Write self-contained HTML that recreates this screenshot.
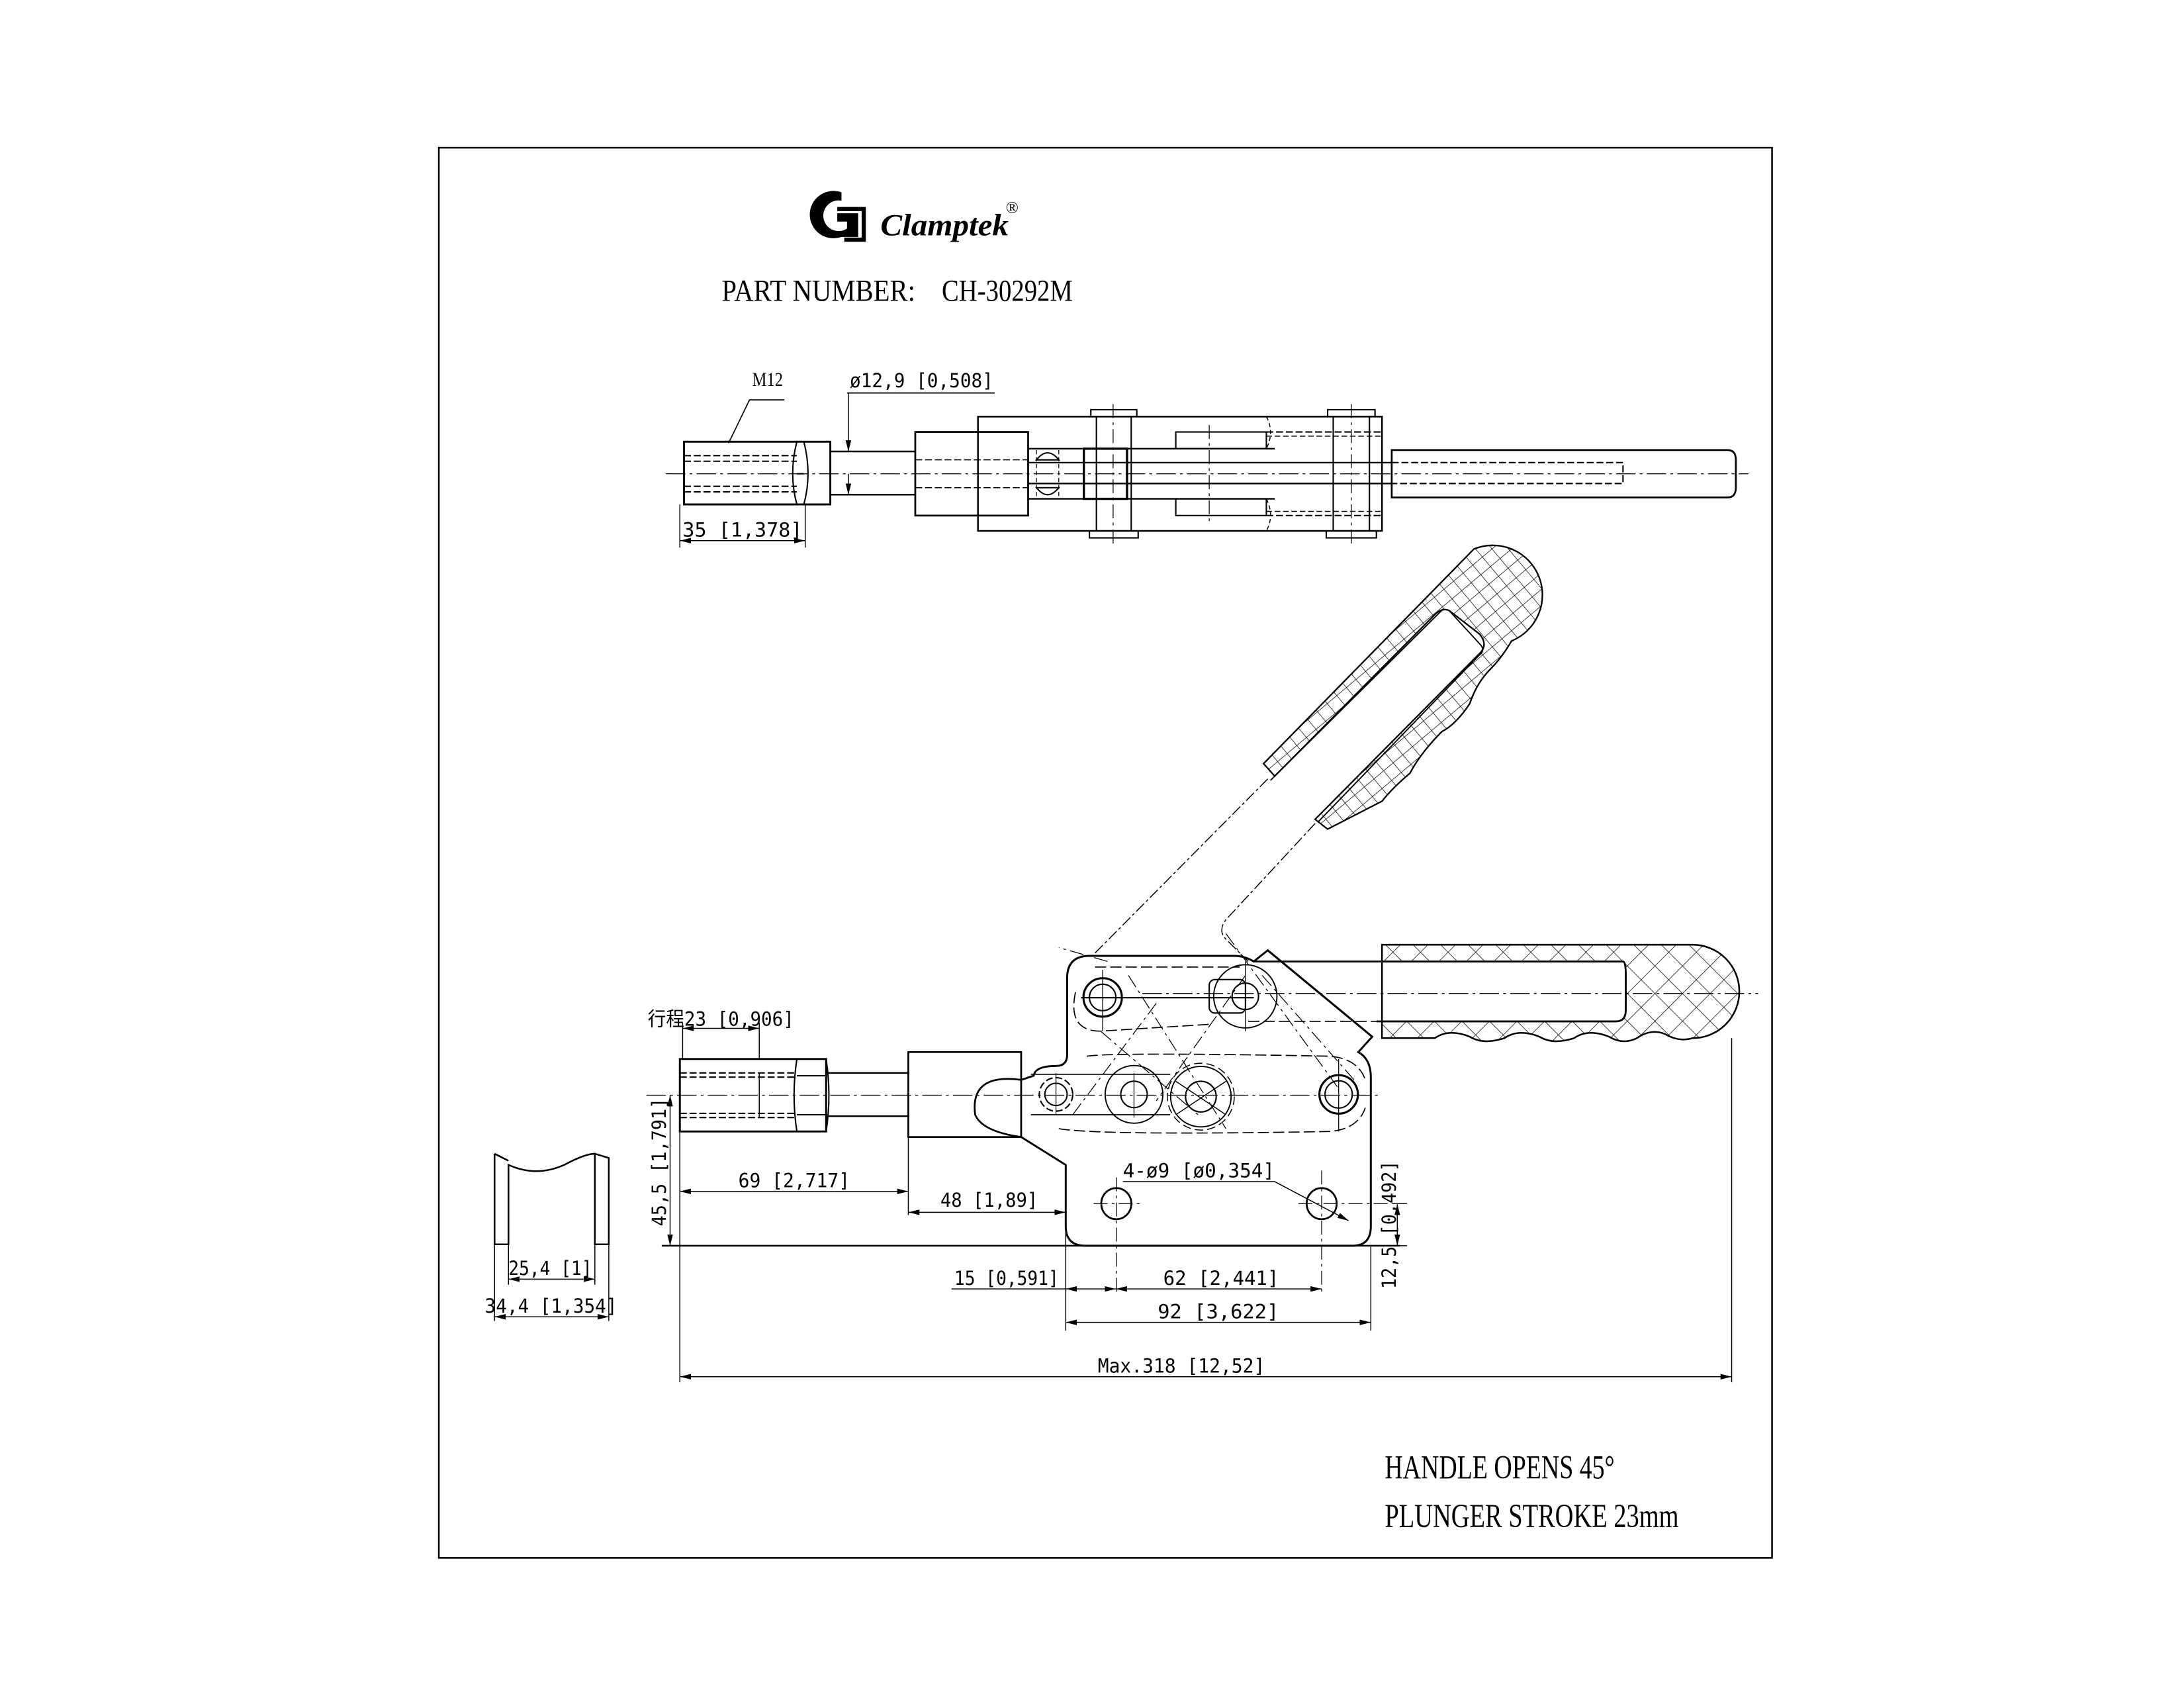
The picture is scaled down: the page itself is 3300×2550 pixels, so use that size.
<!DOCTYPE html>
<html><head><meta charset="utf-8"><style>
html,body{margin:0;padding:0;background:#fff;width:3300px;height:2550px;overflow:hidden}
svg{display:block}
.dim{font-family:"DejaVu Sans Mono","Liberation Mono",monospace;font-size:14px;fill:#000}
.serif{font-family:"Liberation Serif",serif;fill:#000}
</style></head><body>
<svg width="3300" height="2550" viewBox="0 0 1567.7 1211.4" preserveAspectRatio="none" xmlns="http://www.w3.org/2000/svg">
<defs>
<pattern id="xh2" width="14" height="14" patternUnits="userSpaceOnUse" patternTransform="rotate(45)">
<path d="M0 0H14M0 0V14" stroke="#000" stroke-width="0.7" fill="none"/></pattern>
<pattern id="gr" width="9" height="9" patternUnits="userSpaceOnUse" patternTransform="rotate(-40)">
<path d="M0 0H9M0 0V9" stroke="#000" stroke-width="0.7" fill="none"/></pattern>
<marker id="ar" markerWidth="8" markerHeight="4" refX="8" refY="2" orient="auto" markerUnits="userSpaceOnUse"><path d="M0 0L8 2L0 4Z" fill="#000"/></marker>
<marker id="al" markerWidth="8" markerHeight="4" refX="0" refY="2" orient="auto" markerUnits="userSpaceOnUse"><path d="M8 0L0 2L8 4Z" fill="#000"/></marker>
</defs>
<rect width="1567.7" height="1211.4" fill="#fff"/>
<rect x="315" y="106" width="957" height="1012" fill="none" stroke="#000" stroke-width="1.2"/>

<!-- logo -->
<path d="M604 138 A17 17 0 1 0 604 170 L616 170 L616 153 L601 153 L601 159 L608 159 L608 164 A11 11 0 1 1 604 144 Z" fill="#000"/>
<path d="M601 150 H620 V172 H606" fill="none" stroke="#000" stroke-width="3"/>
<text x="632" y="169" class="serif" font-size="22" font-style="italic" font-weight="bold" textLength="92" lengthAdjust="spacingAndGlyphs">Clamptek</text>
<text x="722" y="153" class="serif" font-size="12">®</text>
<text x="518" y="216" class="serif" font-size="22" textLength="139" lengthAdjust="spacingAndGlyphs">PART NUMBER:</text>
<text x="676" y="216" class="serif" font-size="22" textLength="94" lengthAdjust="spacingAndGlyphs">CH-30292M</text>

<!-- TOP VIEW -->
<g fill="none" stroke="#000" stroke-width="1">
<line x1="478" y1="340" x2="1255" y2="340" stroke-width="0.6" stroke-dasharray="14 3 2 3"/>
<rect x="491" y="317" width="105" height="45" stroke-width="1.4"/>
<path d="M572 317 Q566 340 572 362 M577 317 Q583 340 577 362 M572 340 H577"/>
<path d="M491 327 H572 M491 331 H572 M491 349 H572 M491 353 H572" stroke-dasharray="5 2"/>
<path d="M596 324 H657 M596 355 H657" stroke-width="1.2"/>
<rect x="657" y="310" width="81" height="60" stroke-width="1.3"/>
<path d="M657 330 H738 M657 350 H738" stroke-dasharray="5 2" stroke-width="0.7"/>
<rect x="702" y="299" width="290" height="82" stroke-width="1.2"/>
<path d="M738 322 H915 M738 332 H999 M738 347 H999 M738 358 H915" stroke-width="1.1"/>
<path d="M738 322 V358"/>
<path d="M844 310 H909 V322 H844 Z M844 358 H909 V370 H844 Z" />
<path d="M909 310 H992 M909 370 H992" stroke-dasharray="5 2"/>
<path d="M909 313 H992 M909 367 H992" stroke-dasharray="4 2" stroke-width="0.7"/>
<path d="M909 299 Q915 310 909 322 M909 358 Q915 370 909 381" stroke-dasharray="3 2" stroke-width="0.7"/>
<rect x="787" y="299" width="25" height="82"/>
<rect x="957" y="299" width="26" height="82"/>
<path d="M782 381 V386 H817 V381 M783 299 V294 H816 V299 M952 381 V386 H988 V381 M953 299 V294 H987 V299" stroke-width="1"/>
<path d="M799 290 V392 M970 290 V392 M868 305 V375" stroke-width="0.6" stroke-dasharray="10 3 2 3"/>
<rect x="778" y="322" width="31" height="36" stroke-width="1.6"/>
<path d="M744 330 Q752 320 760 330 Z M744 350 Q752 360 760 350 Z"/>
<path d="M744 323 V357 M760 323 V357" stroke-dasharray="3 2" stroke-width="0.6"/>
<path d="M999 323 H1240 Q1246 323 1246 330 V350 Q1246 357 1240 357 H999 Z" stroke-width="1.3"/>
<path d="M999 332 H1165 V347 H999" stroke-dasharray="5 2"/>
<path d="M523 318 L538 287 H563" stroke-width="0.8"/>
<path d="M608 282 H714" stroke-width="0.8"/>
<line x1="609" y1="282" x2="609" y2="324" stroke-width="0.7" marker-end="url(#ar)"/>
<line x1="609" y1="355" x2="609" y2="340" stroke-width="0.7" marker-start="url(#al)"/>
<path d="M488 362 V393 M578 362 V393" stroke-width="0.7"/>
<line x1="488" y1="388" x2="578" y2="388" stroke-width="0.7" marker-start="url(#al)" marker-end="url(#ar)"/>
</g>
<text x="540" y="277" class="serif" font-size="14" textLength="22" lengthAdjust="spacingAndGlyphs">M12</text>
<text x="610" y="278" class="dim" textLength="103" lengthAdjust="spacingAndGlyphs">ø12,9 [0,508]</text>
<text x="490" y="385" class="dim" textLength="86" lengthAdjust="spacingAndGlyphs">35 [1,378]</text>

<!-- ANGLED HANDLE -->
<g fill="none" stroke="#000">
<path d="M1058 394 A33 33 0 1 1 1085 460 Q1078 472 1070 480 Q1060 490 1055 505 Q1045 520 1035 525 Q1020 540 1012 555 Q1000 565 992 575 L953 595 L944 588 L1063 468 Q1068 462 1062 455 L1040 438 Q1035 436 1030 441 L915 557 L907 548 Z" fill="url(#gr)" stroke-width="1.1"/>
<path d="M1040 438 L1063 463 Q1066 467 1062 470 L946 590 M1036 437 L912 560" stroke-width="0.9"/>
<path d="M910 559 L784 686" stroke-width="0.7" stroke-dasharray="8 2 2 2"/>
<path d="M944 591 L880 660 Q874 668 880 674 L896 690" stroke-width="0.7" stroke-dasharray="8 2 2 2"/>
</g>

<!-- SIDE VIEW -->
<g fill="none" stroke="#000" stroke-width="1">
<line x1="464" y1="786" x2="992" y2="786" stroke-width="0.6" stroke-dasharray="14 3 2 3"/>
<rect x="488" y="760" width="105" height="52" stroke-width="1.4"/>
<path d="M572 760 Q568 786 572 812 M593 760 Q597 786 593 812 M572 772 H593 M572 800 H593"/>
<path d="M488 770 H572 M488 773 H572 M488 799 H572 M488 802 H572" stroke-dasharray="5 2"/>
<path d="M545 770 V802" stroke-width="0.7"/>
<path d="M593 770 H652 M593 801 H652" stroke-width="1.2"/>
<rect x="652" y="755" width="81" height="61" stroke-width="1.3"/>
<path d="M733 816 L765 836 V880 Q765 894 779 894 H971 Q984 894 984 880 V773 Q984 760 975 755 L976 754 L985 744 L910 682 L900 690 Q893 686 886 686 H782 Q766 686 766 702 V757 Q766 765 758 765 Q743 765 742 772 L733 775" stroke-width="1.4"/>
<path d="M733 775 Q696 770 700 800 Q705 812 733 816" stroke-width="1.3"/>
<path d="M910 682 L985 744" stroke-width="1.4"/>
<path d="M900 690 H1165 Q1167 690 1167 700 V725 Q1167 733 1160 733 H988" stroke-width="1.3"/>
<path d="M896 733 H988" stroke-dasharray="8 3" stroke-width="0.8"/>
<path d="M992 678 H1215 A33 33 0 0 1 1215 745 Q1205 748 1195 742 Q1185 738 1175 745 Q1165 750 1155 744 Q1140 738 1130 745 Q1115 750 1105 744 Q1090 738 1080 745 Q1065 750 1055 744 Q1040 738 1030 745 H992 Z M992 690 H1165 Q1167 690 1167 700 V725 Q1167 733 1160 733 H992 Z" fill="url(#xh2)" fill-rule="evenodd" stroke-width="1.2"/>
<path d="M820 713 H1262" stroke-width="0.7" stroke-dasharray="14 3 2 3"/>
<path d="M776 716 H900" stroke-width="1"/>
<path d="M786 694 H890 M780 758 Q800 755 955 758 Q975 760 980 775 M760 810 Q790 815 955 812 Q975 810 980 795" stroke-dasharray="8 3" stroke-width="0.8"/>
<path d="M772 712 Q766 740 790 740 L870 735" stroke-dasharray="8 3" stroke-width="0.8"/>
<path d="M740 771 H840 M740 800 H840" stroke-width="0.8"/>
<path d="M790 740 L860 800 M810 700 L880 810 M894 700 L830 790 M880 670 L960 780 M906 700 L972 775 M830 720 L770 800 M795 690 L760 680" stroke-width="0.6" stroke-dasharray="10 3 2 3"/>
<circle cx="791.5" cy="715.8" r="13.8" stroke-width="1.5"/><circle cx="791.5" cy="715.8" r="9.5"/>
<circle cx="893.9" cy="715" r="9.5"/><circle cx="893.9" cy="715" r="22.7" stroke-width="0.9"/>
<rect x="868" y="703" width="26" height="24" rx="4"/>
<circle cx="814" cy="785.4" r="9.5"/><circle cx="814" cy="785.4" r="20.7" stroke-width="0.9"/>
<circle cx="862" cy="787" r="11"/><circle cx="862" cy="787" r="21.7" stroke-width="0.9"/><circle cx="862" cy="787" r="24" stroke-dasharray="6 3" stroke-width="0.7"/>
<circle cx="960.9" cy="785.4" r="13.8" stroke-width="1.5"/><circle cx="960.9" cy="785.4" r="9.8"/>
<circle cx="758" cy="785.4" r="12" stroke-dasharray="5 2"/><circle cx="758" cy="785.4" r="8"/>
<path d="M844 776 L880 800 M880 776 L844 800" stroke-width="0.7"/>
<path d="M791.5 696 V740 M893.9 690 V740 M814 770 V802 M960.9 760 V812 M758 770 V800" stroke-width="0.6"/>
<ellipse cx="801.3" cy="863.8" rx="10.8" ry="11.2" stroke-width="1.3"/>
<ellipse cx="948.7" cy="863.8" rx="10.8" ry="11.2" stroke-width="1.3"/>
<path d="M785 863.8 H818 M932 863.8 H1000 M801.3 845 V930 M948.7 840 V930" stroke-width="0.6" stroke-dasharray="10 3 2 3"/>
<path d="M475 894 H1005" stroke-width="1.2"/>
<path d="M488 812 V992 M765 836 V955 M984 894 V955 M1243 745 V992 M652 816 V872 M545 734 V760 M490 734 V760" stroke-width="0.7"/>
<line x1="490" y1="738" x2="545" y2="738" stroke-width="0.7" marker-start="url(#al)" marker-end="url(#ar)"/>
<line x1="481" y1="786" x2="481" y2="894" stroke-width="0.7" marker-start="url(#al)" marker-end="url(#ar)"/>
<line x1="488" y1="855" x2="652" y2="855" stroke-width="0.7" marker-start="url(#al)" marker-end="url(#ar)"/>
<line x1="652" y1="870" x2="765" y2="870" stroke-width="0.7" marker-start="url(#al)" marker-end="url(#ar)"/>
<path d="M806 848 H915 L968 876" stroke-width="0.7" marker-end="url(#ar)"/>
<path d="M1000 863.8 H1010 M984 894 H1010" stroke-width="0.7"/>
<line x1="1003" y1="864" x2="1003" y2="894" stroke-width="0.7" marker-start="url(#al)" marker-end="url(#ar)"/>
<path d="M683 925 H765" stroke-width="0.7"/>
<line x1="765" y1="925" x2="801" y2="925" stroke-width="0.7" marker-start="url(#al)" marker-end="url(#ar)"/>
<line x1="801" y1="925" x2="948.7" y2="925" stroke-width="0.7" marker-start="url(#al)" marker-end="url(#ar)"/>
<line x1="765" y1="949" x2="984" y2="949" stroke-width="0.7" marker-start="url(#al)" marker-end="url(#ar)"/>
<line x1="488" y1="988" x2="1243" y2="988" stroke-width="0.7" marker-start="url(#al)" marker-end="url(#ar)"/>
<path d="M355 828 V893 H365 V836 Q385 845 405 836 Q420 828 427 828 V893 H437 V831 L427 828 M355 828 L365 833" stroke-width="1.2"/>
<path d="M355 893 V948 M437 893 V948 M365 893 V922 M427 893 V922" stroke-width="0.7"/>
<line x1="365" y1="918" x2="427" y2="918" stroke-width="0.7" marker-start="url(#al)" marker-end="url(#ar)"/>
<line x1="355" y1="945" x2="437" y2="945" stroke-width="0.7" marker-start="url(#al)" marker-end="url(#ar)"/>
</g>
<text x="465" y="736" class="dim" font-family="'Liberation Sans','Noto Sans CJK SC',sans-serif" textLength="105" lengthAdjust="spacingAndGlyphs">行程23 [0,906]</text>
<text transform="translate(478,880) rotate(-90)" class="dim" textLength="92" lengthAdjust="spacingAndGlyphs">45,5 [1,791]</text>
<text x="530" y="852" class="dim" textLength="80" lengthAdjust="spacingAndGlyphs">69 [2,717]</text>
<text x="675" y="866" class="dim" textLength="70" lengthAdjust="spacingAndGlyphs">48 [1,89]</text>
<text x="806" y="845" class="dim" textLength="109" lengthAdjust="spacingAndGlyphs">4-ø9 [ø0,354]</text>
<text transform="translate(1002,925) rotate(-90)" class="dim" textLength="92" lengthAdjust="spacingAndGlyphs">12,5 [0,492]</text>
<text x="685" y="922" class="dim" textLength="75" lengthAdjust="spacingAndGlyphs">15 [0,591]</text>
<text x="835" y="922" class="dim" textLength="83" lengthAdjust="spacingAndGlyphs">62 [2,441]</text>
<text x="831" y="946" class="dim" textLength="87" lengthAdjust="spacingAndGlyphs">92 [3,622]</text>
<text x="788" y="985" class="dim" textLength="120" lengthAdjust="spacingAndGlyphs">Max.318 [12,52]</text>
<text x="365" y="915" class="dim" textLength="60" lengthAdjust="spacingAndGlyphs">25,4 [1]</text>
<text x="348" y="942" class="dim" textLength="95" lengthAdjust="spacingAndGlyphs">34,4 [1,354]</text>

<text x="994" y="1061" class="serif" font-size="24" textLength="165" lengthAdjust="spacingAndGlyphs">HANDLE OPENS 45°</text>
<text x="994" y="1096" class="serif" font-size="24" textLength="211" lengthAdjust="spacingAndGlyphs">PLUNGER STROKE 23mm</text>
</svg>
</body></html>
